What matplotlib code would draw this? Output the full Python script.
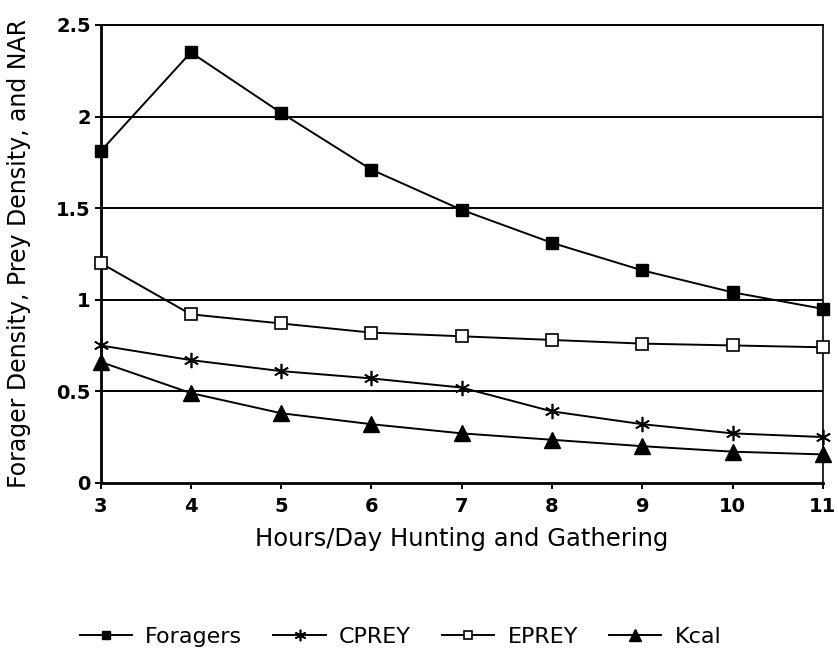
import matplotlib
matplotlib.use("Agg")
import matplotlib.pyplot as plt

plt.rcParams['font.family'] = ['DejaVu Sans']

hours = [3, 4, 5, 6, 7, 8, 9, 10, 11]
foragers = [1.81, 2.35, 2.02, 1.71, 1.49, 1.31, 1.16, 1.04, 0.95]
cprey = [0.75, 0.67, 0.61, 0.57, 0.52, 0.39, 0.32, 0.27, 0.25]
eprey = [1.20, 0.92, 0.87, 0.82, 0.80, 0.78, 0.76, 0.75, 0.74]
kcal = [0.66, 0.49, 0.38, 0.32, 0.27, 0.235, 0.20, 0.17, 0.155]
yticks = [0, 0.5, 1, 1.5, 2, 2.5]
yticklabels = ['0', '0.5', '1', '1.5', '2', '2.5']

fig = plt.figure(figsize=(8.38, 6.56), dpi=100)
ax = fig.add_axes([0.120, 0.264, 0.862, 0.698])

for y in yticks[1:]:
    ax.axhline(y, color='black', lw=1.4, zorder=1)

common = dict(color='black', lw=1.4, clip_on=False, zorder=3)
ax.plot(hours, foragers, marker='s', ms=8, mfc='black', mec='black',
        label='Foragers', **common)
ax.plot(hours, cprey, marker=(6, 2, 0), ms=11, mec='black', mew=1.2,
        label='CPREY', **common)
ax.plot(hours, eprey, marker='s', ms=8, mfc='white', mec='black', mew=1.2,
        label='EPREY', **common)
ax.plot(hours, kcal, marker='^', ms=12, mfc='black', mec='black',
        label='Kcal', **common)

ax.set_xlim(3, 11)
ax.set_ylim(0, 2.5)
ax.set_xticks(hours)
ax.set_xticklabels([str(h) for h in hours], fontsize=14, fontweight='bold')
ax.set_yticks(yticks)
ax.set_yticklabels(yticklabels, fontsize=14, fontweight='bold')
ax.tick_params(direction='out', length=4, width=1.4, color='black')
ax.tick_params(axis='x', pad=6)
ax.tick_params(axis='y', pad=3)

for side in ['left', 'bottom']:
    ax.spines[side].set_linewidth(2.0)
ax.spines['right'].set_linewidth(1.2)
ax.spines['top'].set_linewidth(1.4)

ax.set_xlabel('Hours/Day Hunting and Gathering', fontsize=17.5, labelpad=8)
ax.set_ylabel('Forager Density, Prey Density, and NAR', fontsize=17, labelpad=18)

fig.legend(loc='center', bbox_to_anchor=(0.478, 0.029), ncol=4, frameon=False,
           fontsize=16, handlelength=2.35, columnspacing=1.4, handletextpad=0.6,
           markerscale=0.75)

fig.savefig('out.png', dpi=100)
